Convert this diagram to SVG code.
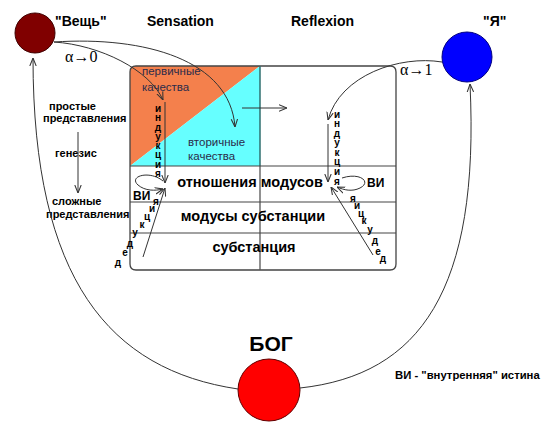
<svg xmlns="http://www.w3.org/2000/svg" width="545" height="441" viewBox="0 0 545 441">
<defs>
<marker id="ah" viewBox="0 0 10 10" refX="10" refY="5" markerWidth="8" markerHeight="8" markerUnits="userSpaceOnUse" orient="auto">
<path d="M0,1 L10,5 L0,9" fill="none" stroke="#333" stroke-width="1.3"/>
</marker>
<style>
text{font-family:"Liberation Sans",Arial,sans-serif;fill:#000}
.b{font-weight:bold}
.h{font-size:14px;font-weight:bold}
.row{font-size:14.5px;font-weight:bold;text-anchor:middle}
.q{font-size:11.5px;fill:#2b2b4a}
.lt{font-size:10px;font-weight:bold;text-anchor:middle}
.sm{font-size:11px;font-weight:bold}
.vi{font-size:12px;font-weight:bold}
.al{font-family:"Liberation Serif","Times New Roman",serif;font-size:16px}
.ln{fill:none;stroke:#333;stroke-width:1}
.arr{fill:none;stroke:#333;stroke-width:1;marker-end:url(#ah)}
</style>
</defs>
<rect width="545" height="441" fill="#fff"/>

<g id="table">
<path d="M130,166 V72 Q130,66 136,66 H260 Z" fill="#F4804C"/>
<path d="M260,66 V166 H130 Z" fill="#66FFFF"/>
<path d="M136,66 H390 Q396,66 396,72 V264 Q396,270 390,270 H136 Q130,270 130,264 V72 Q130,66 136,66 Z" fill="none" stroke="#444" stroke-width="1.3"/>
<line x1="260" y1="66" x2="260" y2="166" stroke="#2f6f6f" stroke-width="1.5"/>
<line x1="260" y1="166" x2="260" y2="270" stroke="#555" stroke-width="1.3"/>
<line x1="130" y1="166" x2="396" y2="166" stroke="#444" stroke-width="1.2"/>
<line x1="130" y1="202" x2="396" y2="202" stroke="#444" stroke-width="1.2"/>
<line x1="130" y1="233" x2="396" y2="233" stroke="#444" stroke-width="1.2"/>
<text class="q" x="142" y="75">первичные</text>
<text class="q" x="142" y="91">качества</text>
<text class="q" x="188" y="146">вторичные</text>
<text class="q" x="188" y="160">качества</text>
<text class="row" x="250" y="187">отношения модусов</text>
<text class="row" x="253" y="221">модусы субстанции</text>
<text class="row" x="254" y="252">субстанция</text>
</g>

<g id="thing">
<circle cx="35" cy="33" r="20" fill="#800000" stroke="#400000" stroke-width="1"/>
<text class="h" x="55" y="26">"Вещь"</text>
</g>
<g id="self">
<circle cx="467" cy="57" r="25" fill="#0000FF" stroke="#000080" stroke-width="1"/>
<text class="h" x="483" y="26">"Я"</text>
</g>
<g id="god">
<circle cx="269" cy="390" r="31" fill="#FF0000" stroke="#600000" stroke-width="1"/>
<text class="b" x="271" y="351" font-size="21" text-anchor="middle">БОГ</text>
</g>

<g id="headers">
<text class="h" x="147" y="26">Sensation</text>
<text class="h" x="291" y="26">Reflexion</text>
<text class="al" x="65" y="62">α→0</text>
<text class="al" x="400" y="75">α→1</text>
</g>

<g id="genesis">
<text class="sm" x="49" y="110">простые</text>
<text class="sm" x="43" y="122">представления</text>
<text class="sm" x="55" y="157">генезис</text>
<text class="sm" x="52" y="205">сложные</text>
<text class="sm" x="46" y="218">представления</text>
</g>

<g id="legend">
<text class="b" x="395" y="379" font-size="11.3">ВИ - "внутренняя" истина</text>
</g>

<g id="connectors">
<path class="arr" d="M238,389 C110,370 33,280 33,58"/>
<path class="arr" d="M300,388 C420,375 480,290 470,84"/>
<path class="arr" d="M54,42 C100,45 150,70 163,100"/>
<path class="arr" d="M54,42 C145,36 230,60 235,127"/>
<path class="arr" d="M442,62 C400,55 340,75 328,120"/>
<path class="arr" d="M242,108 H287"/>
<path class="arr" d="M78,132 V193"/>
<path class="arr" d="M165,102 V183"/>
<path class="arr" d="M328,124 V182"/>
<path class="arr" d="M143,257 L165,188"/>
<path class="arr" d="M373,255 L331,187"/>
<path class="arr" d="M163,181 C150,170 128,176 138,185 C145,191 155,191 163,189"/>
<path class="arr" d="M342,178 C360,172 372,182 360,188 C352,192 344,190 337,187"/>
</g>

<g id="induction-left">
<text class="lt" x="158" y="112">и</text>
<text class="lt" x="158" y="121.3">н</text>
<text class="lt" x="158" y="130.6">д</text>
<text class="lt" x="158" y="139.9">у</text>
<text class="lt" x="158" y="149.1">к</text>
<text class="lt" x="158" y="158.4">ц</text>
<text class="lt" x="158" y="167.7">и</text>
<text class="lt" x="158" y="177">я</text>
</g>
<g id="induction-right">
<text class="lt" x="337" y="117.5">и</text>
<text class="lt" x="337" y="127">н</text>
<text class="lt" x="337" y="136.6">д</text>
<text class="lt" x="337" y="146.2">у</text>
<text class="lt" x="337" y="155.8">к</text>
<text class="lt" x="337" y="165.4">ц</text>
<text class="lt" x="337" y="175">и</text>
<text class="lt" x="337" y="184.5">я</text>
</g>
<g id="deduction-left">
<text class="lt" x="118" y="266">д</text>
<text class="lt" x="125" y="256">е</text>
<text class="lt" x="130" y="247">д</text>
<text class="lt" x="135" y="236">у</text>
<text class="lt" x="142" y="228">к</text>
<text class="lt" x="147" y="220">ц</text>
<text class="lt" x="152" y="212">и</text>
<text class="lt" x="156" y="205">я</text>
</g>
<g id="deduction-right">
<text class="lt" x="353" y="202">я</text>
<text class="lt" x="357" y="209">и</text>
<text class="lt" x="361" y="217">ц</text>
<text class="lt" x="364" y="224">к</text>
<text class="lt" x="370" y="233">у</text>
<text class="lt" x="375" y="244">д</text>
<text class="lt" x="378" y="255">е</text>
<text class="lt" x="383" y="262">д</text>
</g>
<g id="vi-labels">
<text class="vi" x="133" y="200">ВИ</text>
<text class="vi" x="367" y="187">ВИ</text>
</g>
</svg>
